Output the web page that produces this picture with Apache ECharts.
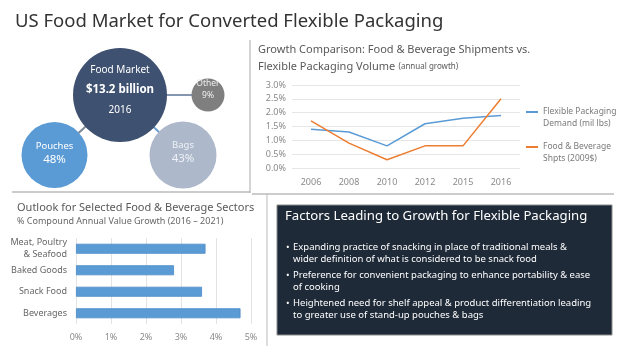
<!DOCTYPE html>
<html>
<head>
<meta charset="utf-8">
<script src="https://cdn.jsdelivr.net/npm/echarts@6/dist/echarts.min.js"></script>
<style>
  html, body { margin: 0; padding: 0; background: #fff; }
  #chart { width: 625px; height: 352px; }
</style>
</head>
<body>
<div id="chart"></div>
<script>
// bubble overview
const bubbleNames = ['Food Market', 'Pouches', 'Bags', 'Other']
const bubbleShares = [null, 48, 43, 9]
const marketValue = 13.2
const marketYear = 2016

// growth comparison (annual growth, %)
const growthYears = ['2006', '2008', '2010', '2012', '2015', '2016']
const flexDemand = [1.4, 1.3, 0.8, 1.6, 1.8, 1.9]
const foodShipments = [1.7, 0.9, 0.3, 0.8, 0.8, 2.5]
const growthTicks = [0, 0.5, 1, 1.5, 2, 2.5, 3]

// sector outlook (% CAGR 2016-2021)
const sectors = ['Meat, Poultry\n& Seafood', 'Baked Goods', 'Snack Food', 'Beverages']
const sectorGrowth = [3.7, 2.8, 3.6, 4.7]
const sectorTicks = [0, 1, 2, 3, 4, 5]

const factors = [
  ['Expanding practice of snacking in place of traditional meals &', 'wider definition of what is considered to be snack food'],
  ['Preference for convenient packaging to enhance portability & ease', 'of cooking'],
  ['Heightened need for shelf appeal & product differentiation leading', 'to greater use of stand-up pouches & bags']
]

const FONT = "'Noto Sans', sans-serif"

// bubble layout (pixel space): center x, center y, diameter, colour, label offset
const bubbleLayout = [
  [120, 95, 94, '#3f5171', -5],
  [54.5, 155, 66, '#5b9bd5', -2],
  [183, 155, 67, '#adb9ca', -3],
  [208, 95, 33, '#7f7f7f', -5]
]
const linkColors = ['#7d8793', '#6a9cd0', '#8496b0']

const bubbleData = bubbleNames.map((name, i) => {
  const [x, y, d, color, dy] = bubbleLayout[i]
  let label
  if (i === 0) {
    label = '{a|' + name + '}\n{b|$' + marketValue.toFixed(1) + ' billion}\n{a|' + marketYear + '}'
  } else {
    label = '{a|' + name + '}\n{c|' + bubbleShares[i] + '%}'
  }
  const txt = i === 2 ? '#eef2f8' : '#fff'
  return {
    name,
    value: [x, y],
    symbolSize: d,
    itemStyle: { color, opacity: 1 },
    label: {
      formatter: label,
      offset: [0, dy],
      rich: i === 3
        ? { a: { fontSize: 8.5, color: '#eee', lineHeight: 12, fontFamily: FONT }, c: { fontSize: 8.5, color: '#eee', lineHeight: 12, fontFamily: FONT } }
        : {
          a: { fontSize: i === 0 ? 10 : 9.5, color: txt, lineHeight: i === 0 ? 19 : 13, fontFamily: FONT },
          b: { fontSize: 11.5, color: '#fff', fontWeight: 'bold', lineHeight: 21, fontFamily: FONT },
          c: { fontSize: 11.5, color: txt, lineHeight: 14, fontFamily: FONT }
        }
    }
  }
})

const links = [1, 2, 3].map(i => ({
  coords: [[bubbleLayout[0][0], bubbleLayout[0][1]], [bubbleLayout[i][0], bubbleLayout[i][1]]],
  lineStyle: { color: linkColors[i - 1] }
}))

const axisText = { color: '#8a8a8a', fontSize: 9, fontFamily: FONT }

const chart = echarts.init(document.getElementById('chart'))
chart.setOption({
  animation: false,
  textStyle: { fontFamily: FONT },
  grid: [
    { left: 0, right: 0, top: 0, bottom: 0 },
    { left: 292, width: 228, top: 85, height: 83 },
    { left: 76, width: 175, top: 238, height: 86 }
  ],
  xAxis: [
    { gridIndex: 0, type: 'value', min: 0, max: 625, show: false },
    {
      gridIndex: 1, type: 'category', data: growthYears, boundaryGap: true,
      axisLine: { show: false }, axisTick: { show: false },
      axisLabel: Object.assign({ margin: 10 }, axisText)
    },
    {
      gridIndex: 2, type: 'value', min: sectorTicks[0], max: sectorTicks[sectorTicks.length - 1], interval: 1,
      axisLine: { show: false }, axisTick: { show: false },
      axisLabel: Object.assign({ formatter: '{value}%', margin: 9 }, axisText),
      splitLine: { lineStyle: { color: '#e3e3e3' } }
    }
  ],
  yAxis: [
    { gridIndex: 0, type: 'value', min: 0, max: 352, inverse: true, show: false },
    {
      gridIndex: 1, type: 'value', min: growthTicks[0], max: growthTicks[growthTicks.length - 1], interval: 0.5,
      axisLine: { show: false }, axisTick: { show: false },
      axisLabel: Object.assign({ formatter: v => v.toFixed(1) + '%', margin: 6 }, axisText),
      splitLine: { lineStyle: { color: '#e6e6e6' } }
    },
    {
      gridIndex: 2, type: 'category', data: sectors, inverse: true,
      axisLine: { show: false }, axisTick: { show: false },
      axisLabel: { color: '#666', fontSize: 9, lineHeight: 12, margin: 9, fontFamily: FONT }
    }
  ],
  legend: {
    orient: 'vertical', left: 526, top: 94, itemGap: -1, padding: 0,
    itemWidth: 12, itemHeight: 2, icon: 'rect',
    data: ['Flexible Packaging\nDemand (mil lbs)', 'Food & Beverage\nShpts (2009$)'],
    // leading blank line keeps the legend mark level with the first text line
    formatter: name => '\n' + name,
    textStyle: { color: '#7a7a7a', fontSize: 8.5, lineHeight: 12, fontFamily: FONT }
  },
  series: [
    {
      type: 'lines', coordinateSystem: 'cartesian2d', xAxisIndex: 0, yAxisIndex: 0,
      data: links, z: 1, silent: true,
      lineStyle: { width: 2, opacity: 1 }
    },
    {
      type: 'scatter', xAxisIndex: 0, yAxisIndex: 0, z: 3,
      data: bubbleData,
      label: { show: true, position: 'inside', align: 'center' }
    },
    {
      name: 'Flexible Packaging\nDemand (mil lbs)', type: 'line', xAxisIndex: 1, yAxisIndex: 1,
      data: flexDemand, symbol: 'none', lineStyle: { color: '#5b9bd5', width: 1.5 }, itemStyle: { color: '#5b9bd5' }
    },
    {
      name: 'Food & Beverage\nShpts (2009$)', type: 'line', xAxisIndex: 1, yAxisIndex: 1,
      data: foodShipments, symbol: 'none', lineStyle: { color: '#ed7d31', width: 1.5 }, itemStyle: { color: '#ed7d31' }
    },
    {
      type: 'bar', xAxisIndex: 2, yAxisIndex: 2, data: sectorGrowth, barWidth: 10,
      itemStyle: { color: '#5b9bd5', borderColor: '#4a8ac6', borderWidth: 0.8 }
    }
  ],
  graphic: [
    {
      type: 'text', left: 15, top: 12,
      style: { text: 'US Food Market for Converted Flexible Packaging', fontSize: 18.5, fill: '#333', fontFamily: FONT }
    },
    { type: 'line', shape: { x1: 250, y1: 40, x2: 250, y2: 193 }, style: { stroke: '#aaa', lineWidth: 1 } },
    { type: 'line', shape: { x1: 12, y1: 192, x2: 250, y2: 192 }, style: { stroke: '#999', lineWidth: 1.2 } },
    { type: 'line', shape: { x1: 252, y1: 194, x2: 614, y2: 194 }, style: { stroke: '#999', lineWidth: 1.2 } },
    { type: 'line', shape: { x1: 267, y1: 194, x2: 267, y2: 346 }, style: { stroke: '#bbb', lineWidth: 1 } },
    {
      type: 'text', left: 258, top: 44,
      style: { text: 'Growth Comparison: Food & Beverage Shipments vs.', fontSize: 11, fill: '#595959', fontFamily: FONT }
    },
    {
      type: 'text', left: 258, top: 61,
      style: {
        text: '{a|Flexible Packaging Volume} {b|(annual growth)}',
        rich: { a: { fontSize: 11, fill: '#595959', fontFamily: FONT }, b: { fontSize: 8, fill: '#595959', fontFamily: FONT } }
      }
    },
    {
      type: 'text', left: 17, top: 202,
      style: { text: 'Outlook for Selected Food & Beverage Sectors', fontSize: 11, fill: '#595959', fontFamily: FONT }
    },
    {
      type: 'text', left: 17, top: 217,
      style: { text: '% Compound Annual Value Growth (2016 \u2013 2021)', fontSize: 9, fill: '#666', fontFamily: FONT }
    },
    {
      type: 'rect', shape: { x: 277, y: 205, width: 335, height: 130 },
      style: { fill: '#1f2a38', stroke: '#8a8a8a', lineWidth: 1 }
    },
    {
      type: 'text', left: 285, top: 210,
      style: { text: 'Factors Leading to Growth for Flexible Packaging', fontSize: 13.2, fill: '#fff', fontFamily: FONT }
    }
  ].concat(
    factors.flatMap((lines, i) => {
      const top = 241 + i * 28
      return [
        { type: 'text', left: 286, top: top, style: { text: '\u2022', fontSize: 9.5, lineHeight: 12, fill: '#fff', fontFamily: FONT } },
        {
          type: 'text', left: 293, top: top,
          style: { text: lines.join('\n'), fontSize: 9.5, lineHeight: 12, fill: '#fff', fontFamily: FONT }
        }
      ]
    })
  )
})
</script>
</body>
</html>
